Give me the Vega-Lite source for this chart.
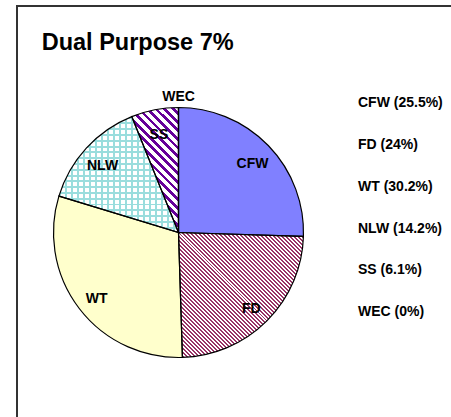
{
  "$schema": "https://vega.github.io/schema/vega-lite/v6.json",
  "width": 451,
  "height": 420,
  "autosize": {"type": "none"},
  "padding": {"left": 17, "top": 6, "right": 0, "bottom": 0},
  "background": "white",
  "view": {"stroke": "#333333", "strokeWidth": 2},
  "title": {
    "text": "Dual Purpose 7%",
    "anchor": "start",
    "frame": "group",
    "offset": -67,
    "dx": 24.7,
    "baseline": "alphabetic",
    "font": "Liberation Sans",
    "fontSize": 23.5,
    "fontWeight": "bold",
    "color": "#000000"
  },
  "data": {
    "values": [
      {"name": "CFW", "label": "CFW (25.5%)", "pct": 25.5, "ord": 1},
      {"name": "FD", "label": "FD (24%)", "pct": 24, "ord": 2},
      {"name": "WT", "label": "WT (30.2%)", "pct": 30.2, "ord": 3},
      {"name": "NLW", "label": "NLW (14.2%)", "pct": 14.2, "ord": 4},
      {"name": "SS", "label": "SS (6.1%)", "pct": 6.1, "ord": 5},
      {"name": "WEC", "label": "WEC (0%)", "pct": 0, "ord": 6}
    ]
  },
  "layer": [
    {
      "mark": {"type": "arc", "x": 161.5, "y": 226.5, "outerRadius": 125, "strokeWidth": 0},
      "encoding": {
        "theta": {"field": "pct", "type": "quantitative", "stack": true},
        "order": {"field": "ord", "type": "quantitative"},
        "fill": {
          "field": "label",
          "type": "nominal",
          "scale": {
            "domain": ["CFW (25.5%)", "FD (24%)", "WT (30.2%)", "NLW (14.2%)", "SS (6.1%)", "WEC (0%)"],
            "range": ["#8080ff", "#993366", "#ffffcc", "#99dddd", "#660099", "#ff8080"]
          },
          "legend": {
            "orient": "none",
            "legendX": 327,
            "legendY": 90.2,
            "title": null,
            "padding": 0,
            "symbolSize": 0,
            "symbolOpacity": 0,
            "symbolStrokeWidth": 0,
            "labelOffset": 0,
            "rowPadding": 27.8,
            "labelLimit": 200,
            "labelFont": "Liberation Sans",
            "labelFontSize": 14,
            "labelFontWeight": "bold",
            "labelColor": "#000000"
          },
          "condition": [
            {
              "test": "datum.name === 'FD'",
              "value": {
                "gradient": "linear", "x1": 0, "y1": 1, "x2": 1, "y2": 0,
                "stops": [
                  {"offset": 0, "color": "#993366"}, {"offset": 0.008, "color": "#993366"}, {"offset": 0.008, "color": "#ffffff"}, {"offset": 0.016, "color": "#ffffff"},
                  {"offset": 0.016, "color": "#993366"}, {"offset": 0.024, "color": "#993366"}, {"offset": 0.024, "color": "#ffffff"}, {"offset": 0.032, "color": "#ffffff"},
                  {"offset": 0.032, "color": "#993366"}, {"offset": 0.04, "color": "#993366"}, {"offset": 0.04, "color": "#ffffff"}, {"offset": 0.048, "color": "#ffffff"},
                  {"offset": 0.048, "color": "#993366"}, {"offset": 0.056, "color": "#993366"}, {"offset": 0.056, "color": "#ffffff"}, {"offset": 0.064, "color": "#ffffff"},
                  {"offset": 0.064, "color": "#993366"}, {"offset": 0.072, "color": "#993366"}, {"offset": 0.072, "color": "#ffffff"}, {"offset": 0.08, "color": "#ffffff"},
                  {"offset": 0.08, "color": "#993366"}, {"offset": 0.088, "color": "#993366"}, {"offset": 0.088, "color": "#ffffff"}, {"offset": 0.096, "color": "#ffffff"},
                  {"offset": 0.096, "color": "#993366"}, {"offset": 0.104, "color": "#993366"}, {"offset": 0.104, "color": "#ffffff"}, {"offset": 0.112, "color": "#ffffff"},
                  {"offset": 0.112, "color": "#993366"}, {"offset": 0.12, "color": "#993366"}, {"offset": 0.12, "color": "#ffffff"}, {"offset": 0.128, "color": "#ffffff"},
                  {"offset": 0.128, "color": "#993366"}, {"offset": 0.136, "color": "#993366"}, {"offset": 0.136, "color": "#ffffff"}, {"offset": 0.144, "color": "#ffffff"},
                  {"offset": 0.144, "color": "#993366"}, {"offset": 0.152, "color": "#993366"}, {"offset": 0.152, "color": "#ffffff"}, {"offset": 0.16, "color": "#ffffff"},
                  {"offset": 0.16, "color": "#993366"}, {"offset": 0.168, "color": "#993366"}, {"offset": 0.168, "color": "#ffffff"}, {"offset": 0.176, "color": "#ffffff"},
                  {"offset": 0.176, "color": "#993366"}, {"offset": 0.184, "color": "#993366"}, {"offset": 0.184, "color": "#ffffff"}, {"offset": 0.192, "color": "#ffffff"},
                  {"offset": 0.192, "color": "#993366"}, {"offset": 0.2, "color": "#993366"}, {"offset": 0.2, "color": "#ffffff"}, {"offset": 0.208, "color": "#ffffff"},
                  {"offset": 0.208, "color": "#993366"}, {"offset": 0.216, "color": "#993366"}, {"offset": 0.216, "color": "#ffffff"}, {"offset": 0.224, "color": "#ffffff"},
                  {"offset": 0.224, "color": "#993366"}, {"offset": 0.232, "color": "#993366"}, {"offset": 0.232, "color": "#ffffff"}, {"offset": 0.24, "color": "#ffffff"},
                  {"offset": 0.24, "color": "#993366"}, {"offset": 0.248, "color": "#993366"}, {"offset": 0.248, "color": "#ffffff"}, {"offset": 0.256, "color": "#ffffff"},
                  {"offset": 0.256, "color": "#993366"}, {"offset": 0.264, "color": "#993366"}, {"offset": 0.264, "color": "#ffffff"}, {"offset": 0.272, "color": "#ffffff"},
                  {"offset": 0.272, "color": "#993366"}, {"offset": 0.28, "color": "#993366"}, {"offset": 0.28, "color": "#ffffff"}, {"offset": 0.288, "color": "#ffffff"},
                  {"offset": 0.288, "color": "#993366"}, {"offset": 0.296, "color": "#993366"}, {"offset": 0.296, "color": "#ffffff"}, {"offset": 0.304, "color": "#ffffff"},
                  {"offset": 0.304, "color": "#993366"}, {"offset": 0.312, "color": "#993366"}, {"offset": 0.312, "color": "#ffffff"}, {"offset": 0.32, "color": "#ffffff"},
                  {"offset": 0.32, "color": "#993366"}, {"offset": 0.328, "color": "#993366"}, {"offset": 0.328, "color": "#ffffff"}, {"offset": 0.336, "color": "#ffffff"},
                  {"offset": 0.336, "color": "#993366"}, {"offset": 0.344, "color": "#993366"}, {"offset": 0.344, "color": "#ffffff"}, {"offset": 0.352, "color": "#ffffff"},
                  {"offset": 0.352, "color": "#993366"}, {"offset": 0.36, "color": "#993366"}, {"offset": 0.36, "color": "#ffffff"}, {"offset": 0.368, "color": "#ffffff"},
                  {"offset": 0.368, "color": "#993366"}, {"offset": 0.376, "color": "#993366"}, {"offset": 0.376, "color": "#ffffff"}, {"offset": 0.384, "color": "#ffffff"},
                  {"offset": 0.384, "color": "#993366"}, {"offset": 0.392, "color": "#993366"}, {"offset": 0.392, "color": "#ffffff"}, {"offset": 0.4, "color": "#ffffff"},
                  {"offset": 0.4, "color": "#993366"}, {"offset": 0.408, "color": "#993366"}, {"offset": 0.408, "color": "#ffffff"}, {"offset": 0.416, "color": "#ffffff"},
                  {"offset": 0.416, "color": "#993366"}, {"offset": 0.424, "color": "#993366"}, {"offset": 0.424, "color": "#ffffff"}, {"offset": 0.432, "color": "#ffffff"},
                  {"offset": 0.432, "color": "#993366"}, {"offset": 0.44, "color": "#993366"}, {"offset": 0.44, "color": "#ffffff"}, {"offset": 0.448, "color": "#ffffff"},
                  {"offset": 0.448, "color": "#993366"}, {"offset": 0.456, "color": "#993366"}, {"offset": 0.456, "color": "#ffffff"}, {"offset": 0.464, "color": "#ffffff"},
                  {"offset": 0.464, "color": "#993366"}, {"offset": 0.472, "color": "#993366"}, {"offset": 0.472, "color": "#ffffff"}, {"offset": 0.48, "color": "#ffffff"},
                  {"offset": 0.48, "color": "#993366"}, {"offset": 0.488, "color": "#993366"}, {"offset": 0.488, "color": "#ffffff"}, {"offset": 0.496, "color": "#ffffff"},
                  {"offset": 0.496, "color": "#993366"}, {"offset": 0.504, "color": "#993366"}, {"offset": 0.504, "color": "#ffffff"}, {"offset": 0.512, "color": "#ffffff"},
                  {"offset": 0.512, "color": "#993366"}, {"offset": 0.52, "color": "#993366"}, {"offset": 0.52, "color": "#ffffff"}, {"offset": 0.528, "color": "#ffffff"},
                  {"offset": 0.528, "color": "#993366"}, {"offset": 0.536, "color": "#993366"}, {"offset": 0.536, "color": "#ffffff"}, {"offset": 0.544, "color": "#ffffff"},
                  {"offset": 0.544, "color": "#993366"}, {"offset": 0.552, "color": "#993366"}, {"offset": 0.552, "color": "#ffffff"}, {"offset": 0.56, "color": "#ffffff"},
                  {"offset": 0.56, "color": "#993366"}, {"offset": 0.568, "color": "#993366"}, {"offset": 0.568, "color": "#ffffff"}, {"offset": 0.576, "color": "#ffffff"},
                  {"offset": 0.576, "color": "#993366"}, {"offset": 0.584, "color": "#993366"}, {"offset": 0.584, "color": "#ffffff"}, {"offset": 0.592, "color": "#ffffff"},
                  {"offset": 0.592, "color": "#993366"}, {"offset": 0.6, "color": "#993366"}, {"offset": 0.6, "color": "#ffffff"}, {"offset": 0.608, "color": "#ffffff"},
                  {"offset": 0.608, "color": "#993366"}, {"offset": 0.616, "color": "#993366"}, {"offset": 0.616, "color": "#ffffff"}, {"offset": 0.624, "color": "#ffffff"},
                  {"offset": 0.624, "color": "#993366"}, {"offset": 0.632, "color": "#993366"}, {"offset": 0.632, "color": "#ffffff"}, {"offset": 0.64, "color": "#ffffff"},
                  {"offset": 0.64, "color": "#993366"}, {"offset": 0.648, "color": "#993366"}, {"offset": 0.648, "color": "#ffffff"}, {"offset": 0.656, "color": "#ffffff"},
                  {"offset": 0.656, "color": "#993366"}, {"offset": 0.664, "color": "#993366"}, {"offset": 0.664, "color": "#ffffff"}, {"offset": 0.672, "color": "#ffffff"},
                  {"offset": 0.672, "color": "#993366"}, {"offset": 0.68, "color": "#993366"}, {"offset": 0.68, "color": "#ffffff"}, {"offset": 0.688, "color": "#ffffff"},
                  {"offset": 0.688, "color": "#993366"}, {"offset": 0.696, "color": "#993366"}, {"offset": 0.696, "color": "#ffffff"}, {"offset": 0.704, "color": "#ffffff"},
                  {"offset": 0.704, "color": "#993366"}, {"offset": 0.712, "color": "#993366"}, {"offset": 0.712, "color": "#ffffff"}, {"offset": 0.72, "color": "#ffffff"},
                  {"offset": 0.72, "color": "#993366"}, {"offset": 0.728, "color": "#993366"}, {"offset": 0.728, "color": "#ffffff"}, {"offset": 0.736, "color": "#ffffff"},
                  {"offset": 0.736, "color": "#993366"}, {"offset": 0.744, "color": "#993366"}, {"offset": 0.744, "color": "#ffffff"}, {"offset": 0.752, "color": "#ffffff"},
                  {"offset": 0.752, "color": "#993366"}, {"offset": 0.76, "color": "#993366"}, {"offset": 0.76, "color": "#ffffff"}, {"offset": 0.768, "color": "#ffffff"},
                  {"offset": 0.768, "color": "#993366"}, {"offset": 0.776, "color": "#993366"}, {"offset": 0.776, "color": "#ffffff"}, {"offset": 0.784, "color": "#ffffff"},
                  {"offset": 0.784, "color": "#993366"}, {"offset": 0.792, "color": "#993366"}, {"offset": 0.792, "color": "#ffffff"}, {"offset": 0.8, "color": "#ffffff"},
                  {"offset": 0.8, "color": "#993366"}, {"offset": 0.808, "color": "#993366"}, {"offset": 0.808, "color": "#ffffff"}, {"offset": 0.816, "color": "#ffffff"},
                  {"offset": 0.816, "color": "#993366"}, {"offset": 0.824, "color": "#993366"}, {"offset": 0.824, "color": "#ffffff"}, {"offset": 0.832, "color": "#ffffff"},
                  {"offset": 0.832, "color": "#993366"}, {"offset": 0.84, "color": "#993366"}, {"offset": 0.84, "color": "#ffffff"}, {"offset": 0.848, "color": "#ffffff"},
                  {"offset": 0.848, "color": "#993366"}, {"offset": 0.856, "color": "#993366"}, {"offset": 0.856, "color": "#ffffff"}, {"offset": 0.864, "color": "#ffffff"},
                  {"offset": 0.864, "color": "#993366"}, {"offset": 0.872, "color": "#993366"}, {"offset": 0.872, "color": "#ffffff"}, {"offset": 0.88, "color": "#ffffff"},
                  {"offset": 0.88, "color": "#993366"}, {"offset": 0.888, "color": "#993366"}, {"offset": 0.888, "color": "#ffffff"}, {"offset": 0.896, "color": "#ffffff"},
                  {"offset": 0.896, "color": "#993366"}, {"offset": 0.904, "color": "#993366"}, {"offset": 0.904, "color": "#ffffff"}, {"offset": 0.912, "color": "#ffffff"},
                  {"offset": 0.912, "color": "#993366"}, {"offset": 0.92, "color": "#993366"}, {"offset": 0.92, "color": "#ffffff"}, {"offset": 0.928, "color": "#ffffff"},
                  {"offset": 0.928, "color": "#993366"}, {"offset": 0.936, "color": "#993366"}, {"offset": 0.936, "color": "#ffffff"}, {"offset": 0.944, "color": "#ffffff"},
                  {"offset": 0.944, "color": "#993366"}, {"offset": 0.952, "color": "#993366"}, {"offset": 0.952, "color": "#ffffff"}, {"offset": 0.96, "color": "#ffffff"},
                  {"offset": 0.96, "color": "#993366"}, {"offset": 0.968, "color": "#993366"}, {"offset": 0.968, "color": "#ffffff"}, {"offset": 0.976, "color": "#ffffff"},
                  {"offset": 0.976, "color": "#993366"}, {"offset": 0.984, "color": "#993366"}, {"offset": 0.984, "color": "#ffffff"}, {"offset": 0.992, "color": "#ffffff"},
                  {"offset": 0.992, "color": "#993366"}, {"offset": 1, "color": "#993366"}
                ]
              }
            },
            {
              "test": "datum.name === 'NLW'",
              "value": {
                "gradient": "linear", "x1": 0, "y1": 0, "x2": 1, "y2": 0,
                "stops": [
                  {"offset": 0, "color": "#99dddd"}, {"offset": 0.017, "color": "#99dddd"}, {"offset": 0.017, "color": "#ffffff"}, {"offset": 0.05, "color": "#ffffff"},
                  {"offset": 0.05, "color": "#99dddd"}, {"offset": 0.067, "color": "#99dddd"}, {"offset": 0.067, "color": "#ffffff"}, {"offset": 0.1, "color": "#ffffff"},
                  {"offset": 0.1, "color": "#99dddd"}, {"offset": 0.117, "color": "#99dddd"}, {"offset": 0.117, "color": "#ffffff"}, {"offset": 0.15, "color": "#ffffff"},
                  {"offset": 0.15, "color": "#99dddd"}, {"offset": 0.167, "color": "#99dddd"}, {"offset": 0.167, "color": "#ffffff"}, {"offset": 0.2, "color": "#ffffff"},
                  {"offset": 0.2, "color": "#99dddd"}, {"offset": 0.217, "color": "#99dddd"}, {"offset": 0.217, "color": "#ffffff"}, {"offset": 0.25, "color": "#ffffff"},
                  {"offset": 0.25, "color": "#99dddd"}, {"offset": 0.267, "color": "#99dddd"}, {"offset": 0.267, "color": "#ffffff"}, {"offset": 0.3, "color": "#ffffff"},
                  {"offset": 0.3, "color": "#99dddd"}, {"offset": 0.317, "color": "#99dddd"}, {"offset": 0.317, "color": "#ffffff"}, {"offset": 0.35, "color": "#ffffff"},
                  {"offset": 0.35, "color": "#99dddd"}, {"offset": 0.367, "color": "#99dddd"}, {"offset": 0.367, "color": "#ffffff"}, {"offset": 0.4, "color": "#ffffff"},
                  {"offset": 0.4, "color": "#99dddd"}, {"offset": 0.417, "color": "#99dddd"}, {"offset": 0.417, "color": "#ffffff"}, {"offset": 0.45, "color": "#ffffff"},
                  {"offset": 0.45, "color": "#99dddd"}, {"offset": 0.467, "color": "#99dddd"}, {"offset": 0.467, "color": "#ffffff"}, {"offset": 0.5, "color": "#ffffff"},
                  {"offset": 0.5, "color": "#99dddd"}, {"offset": 0.517, "color": "#99dddd"}, {"offset": 0.517, "color": "#ffffff"}, {"offset": 0.55, "color": "#ffffff"},
                  {"offset": 0.55, "color": "#99dddd"}, {"offset": 0.567, "color": "#99dddd"}, {"offset": 0.567, "color": "#ffffff"}, {"offset": 0.6, "color": "#ffffff"},
                  {"offset": 0.6, "color": "#99dddd"}, {"offset": 0.617, "color": "#99dddd"}, {"offset": 0.617, "color": "#ffffff"}, {"offset": 0.65, "color": "#ffffff"},
                  {"offset": 0.65, "color": "#99dddd"}, {"offset": 0.667, "color": "#99dddd"}, {"offset": 0.667, "color": "#ffffff"}, {"offset": 0.7, "color": "#ffffff"},
                  {"offset": 0.7, "color": "#99dddd"}, {"offset": 0.717, "color": "#99dddd"}, {"offset": 0.717, "color": "#ffffff"}, {"offset": 0.75, "color": "#ffffff"},
                  {"offset": 0.75, "color": "#99dddd"}, {"offset": 0.767, "color": "#99dddd"}, {"offset": 0.767, "color": "#ffffff"}, {"offset": 0.8, "color": "#ffffff"},
                  {"offset": 0.8, "color": "#99dddd"}, {"offset": 0.817, "color": "#99dddd"}, {"offset": 0.817, "color": "#ffffff"}, {"offset": 0.85, "color": "#ffffff"},
                  {"offset": 0.85, "color": "#99dddd"}, {"offset": 0.867, "color": "#99dddd"}, {"offset": 0.867, "color": "#ffffff"}, {"offset": 0.9, "color": "#ffffff"},
                  {"offset": 0.9, "color": "#99dddd"}, {"offset": 0.917, "color": "#99dddd"}, {"offset": 0.917, "color": "#ffffff"}, {"offset": 0.95, "color": "#ffffff"},
                  {"offset": 0.95, "color": "#99dddd"}, {"offset": 0.967, "color": "#99dddd"}, {"offset": 0.967, "color": "#ffffff"}, {"offset": 1, "color": "#ffffff"}
                ]
              }
            },
            {
              "test": "datum.name === 'SS'",
              "value": {
                "gradient": "linear", "x1": 0, "y1": 1, "x2": 0.4503, "y2": -0.2053,
                "stops": [
                  {"offset": 0, "color": "#660099"}, {"offset": 0.022, "color": "#660099"}, {"offset": 0.022, "color": "#ffffff"}, {"offset": 0.05, "color": "#ffffff"},
                  {"offset": 0.05, "color": "#660099"}, {"offset": 0.072, "color": "#660099"}, {"offset": 0.072, "color": "#ffffff"}, {"offset": 0.1, "color": "#ffffff"},
                  {"offset": 0.1, "color": "#660099"}, {"offset": 0.122, "color": "#660099"}, {"offset": 0.122, "color": "#ffffff"}, {"offset": 0.15, "color": "#ffffff"},
                  {"offset": 0.15, "color": "#660099"}, {"offset": 0.172, "color": "#660099"}, {"offset": 0.172, "color": "#ffffff"}, {"offset": 0.2, "color": "#ffffff"},
                  {"offset": 0.2, "color": "#660099"}, {"offset": 0.222, "color": "#660099"}, {"offset": 0.222, "color": "#ffffff"}, {"offset": 0.25, "color": "#ffffff"},
                  {"offset": 0.25, "color": "#660099"}, {"offset": 0.272, "color": "#660099"}, {"offset": 0.272, "color": "#ffffff"}, {"offset": 0.3, "color": "#ffffff"},
                  {"offset": 0.3, "color": "#660099"}, {"offset": 0.322, "color": "#660099"}, {"offset": 0.322, "color": "#ffffff"}, {"offset": 0.35, "color": "#ffffff"},
                  {"offset": 0.35, "color": "#660099"}, {"offset": 0.372, "color": "#660099"}, {"offset": 0.372, "color": "#ffffff"}, {"offset": 0.4, "color": "#ffffff"},
                  {"offset": 0.4, "color": "#660099"}, {"offset": 0.422, "color": "#660099"}, {"offset": 0.422, "color": "#ffffff"}, {"offset": 0.45, "color": "#ffffff"},
                  {"offset": 0.45, "color": "#660099"}, {"offset": 0.472, "color": "#660099"}, {"offset": 0.472, "color": "#ffffff"}, {"offset": 0.5, "color": "#ffffff"},
                  {"offset": 0.5, "color": "#660099"}, {"offset": 0.522, "color": "#660099"}, {"offset": 0.522, "color": "#ffffff"}, {"offset": 0.55, "color": "#ffffff"},
                  {"offset": 0.55, "color": "#660099"}, {"offset": 0.572, "color": "#660099"}, {"offset": 0.572, "color": "#ffffff"}, {"offset": 0.6, "color": "#ffffff"},
                  {"offset": 0.6, "color": "#660099"}, {"offset": 0.622, "color": "#660099"}, {"offset": 0.622, "color": "#ffffff"}, {"offset": 0.65, "color": "#ffffff"},
                  {"offset": 0.65, "color": "#660099"}, {"offset": 0.672, "color": "#660099"}, {"offset": 0.672, "color": "#ffffff"}, {"offset": 0.7, "color": "#ffffff"},
                  {"offset": 0.7, "color": "#660099"}, {"offset": 0.722, "color": "#660099"}, {"offset": 0.722, "color": "#ffffff"}, {"offset": 0.75, "color": "#ffffff"},
                  {"offset": 0.75, "color": "#660099"}, {"offset": 0.772, "color": "#660099"}, {"offset": 0.772, "color": "#ffffff"}, {"offset": 0.8, "color": "#ffffff"},
                  {"offset": 0.8, "color": "#660099"}, {"offset": 0.822, "color": "#660099"}, {"offset": 0.822, "color": "#ffffff"}, {"offset": 0.85, "color": "#ffffff"},
                  {"offset": 0.85, "color": "#660099"}, {"offset": 0.872, "color": "#660099"}, {"offset": 0.872, "color": "#ffffff"}, {"offset": 0.9, "color": "#ffffff"},
                  {"offset": 0.9, "color": "#660099"}, {"offset": 0.922, "color": "#660099"}, {"offset": 0.922, "color": "#ffffff"}, {"offset": 0.95, "color": "#ffffff"},
                  {"offset": 0.95, "color": "#660099"}, {"offset": 0.972, "color": "#660099"}, {"offset": 0.972, "color": "#ffffff"}, {"offset": 1, "color": "#ffffff"}
                ]
              }
            }
          ]
        }
      }
    },
    {
      "mark": {"type": "arc", "x": 161.5, "y": 226.5, "outerRadius": 125, "strokeWidth": 0},
      "encoding": {
        "theta": {"field": "pct", "type": "quantitative", "stack": true},
        "order": {"field": "ord", "type": "quantitative"},
        "fill": {
          "condition": {
            "test": "datum.name === 'NLW'",
            "value": {
              "gradient": "linear", "x1": 0, "y1": 0, "x2": 0, "y2": 1,
              "stops": [
                {"offset": 0, "color": "#99dddd"}, {"offset": 0.017, "color": "#99dddd"}, {"offset": 0.017, "color": "rgba(255,255,255,0)"}, {"offset": 0.05, "color": "rgba(255,255,255,0)"},
                {"offset": 0.05, "color": "#99dddd"}, {"offset": 0.067, "color": "#99dddd"}, {"offset": 0.067, "color": "rgba(255,255,255,0)"}, {"offset": 0.1, "color": "rgba(255,255,255,0)"},
                {"offset": 0.1, "color": "#99dddd"}, {"offset": 0.117, "color": "#99dddd"}, {"offset": 0.117, "color": "rgba(255,255,255,0)"}, {"offset": 0.15, "color": "rgba(255,255,255,0)"},
                {"offset": 0.15, "color": "#99dddd"}, {"offset": 0.167, "color": "#99dddd"}, {"offset": 0.167, "color": "rgba(255,255,255,0)"}, {"offset": 0.2, "color": "rgba(255,255,255,0)"},
                {"offset": 0.2, "color": "#99dddd"}, {"offset": 0.217, "color": "#99dddd"}, {"offset": 0.217, "color": "rgba(255,255,255,0)"}, {"offset": 0.25, "color": "rgba(255,255,255,0)"},
                {"offset": 0.25, "color": "#99dddd"}, {"offset": 0.267, "color": "#99dddd"}, {"offset": 0.267, "color": "rgba(255,255,255,0)"}, {"offset": 0.3, "color": "rgba(255,255,255,0)"},
                {"offset": 0.3, "color": "#99dddd"}, {"offset": 0.317, "color": "#99dddd"}, {"offset": 0.317, "color": "rgba(255,255,255,0)"}, {"offset": 0.35, "color": "rgba(255,255,255,0)"},
                {"offset": 0.35, "color": "#99dddd"}, {"offset": 0.367, "color": "#99dddd"}, {"offset": 0.367, "color": "rgba(255,255,255,0)"}, {"offset": 0.4, "color": "rgba(255,255,255,0)"},
                {"offset": 0.4, "color": "#99dddd"}, {"offset": 0.417, "color": "#99dddd"}, {"offset": 0.417, "color": "rgba(255,255,255,0)"}, {"offset": 0.45, "color": "rgba(255,255,255,0)"},
                {"offset": 0.45, "color": "#99dddd"}, {"offset": 0.467, "color": "#99dddd"}, {"offset": 0.467, "color": "rgba(255,255,255,0)"}, {"offset": 0.5, "color": "rgba(255,255,255,0)"},
                {"offset": 0.5, "color": "#99dddd"}, {"offset": 0.517, "color": "#99dddd"}, {"offset": 0.517, "color": "rgba(255,255,255,0)"}, {"offset": 0.55, "color": "rgba(255,255,255,0)"},
                {"offset": 0.55, "color": "#99dddd"}, {"offset": 0.567, "color": "#99dddd"}, {"offset": 0.567, "color": "rgba(255,255,255,0)"}, {"offset": 0.6, "color": "rgba(255,255,255,0)"},
                {"offset": 0.6, "color": "#99dddd"}, {"offset": 0.617, "color": "#99dddd"}, {"offset": 0.617, "color": "rgba(255,255,255,0)"}, {"offset": 0.65, "color": "rgba(255,255,255,0)"},
                {"offset": 0.65, "color": "#99dddd"}, {"offset": 0.667, "color": "#99dddd"}, {"offset": 0.667, "color": "rgba(255,255,255,0)"}, {"offset": 0.7, "color": "rgba(255,255,255,0)"},
                {"offset": 0.7, "color": "#99dddd"}, {"offset": 0.717, "color": "#99dddd"}, {"offset": 0.717, "color": "rgba(255,255,255,0)"}, {"offset": 0.75, "color": "rgba(255,255,255,0)"},
                {"offset": 0.75, "color": "#99dddd"}, {"offset": 0.767, "color": "#99dddd"}, {"offset": 0.767, "color": "rgba(255,255,255,0)"}, {"offset": 0.8, "color": "rgba(255,255,255,0)"},
                {"offset": 0.8, "color": "#99dddd"}, {"offset": 0.817, "color": "#99dddd"}, {"offset": 0.817, "color": "rgba(255,255,255,0)"}, {"offset": 0.85, "color": "rgba(255,255,255,0)"},
                {"offset": 0.85, "color": "#99dddd"}, {"offset": 0.867, "color": "#99dddd"}, {"offset": 0.867, "color": "rgba(255,255,255,0)"}, {"offset": 0.9, "color": "rgba(255,255,255,0)"},
                {"offset": 0.9, "color": "#99dddd"}, {"offset": 0.917, "color": "#99dddd"}, {"offset": 0.917, "color": "rgba(255,255,255,0)"}, {"offset": 0.95, "color": "rgba(255,255,255,0)"},
                {"offset": 0.95, "color": "#99dddd"}, {"offset": 0.967, "color": "#99dddd"}, {"offset": 0.967, "color": "rgba(255,255,255,0)"}, {"offset": 1, "color": "rgba(255,255,255,0)"}
              ]
            }
          },
          "value": "transparent"
        }
      }
    },
    {
      "mark": {"type": "arc", "x": 161.5, "y": 226.5, "outerRadius": 125, "fill": "transparent", "stroke": "#000000", "strokeWidth": 1.2},
      "encoding": {
        "theta": {"field": "pct", "type": "quantitative", "stack": true},
        "order": {"field": "ord", "type": "quantitative"}
      }
    },
    {
      "transform": [{"filter": "datum.pct > 0"}],
      "mark": {"type": "text", "x": 161.5, "y": 226.5, "radius": 103, "dy": 3.5, "font": "Liberation Sans", "fontSize": 14, "fontWeight": "bold", "color": "#000000"},
      "encoding": {
        "theta": {"field": "pct", "type": "quantitative", "stack": true},
        "order": {"field": "ord", "type": "quantitative"},
        "text": {"field": "name", "type": "nominal"}
      }
    },
    {
      "transform": [{"filter": "datum.pct === 0"}],
      "mark": {"type": "text", "x": 161.5, "y": 226.5, "radius": 139, "dy": 3, "font": "Liberation Sans", "fontSize": 14, "fontWeight": "bold", "color": "#000000"},
      "encoding": {
        "theta": {"field": "pct", "type": "quantitative", "stack": true},
        "order": {"field": "ord", "type": "quantitative"},
        "text": {"field": "name", "type": "nominal"}
      }
    }
  ],
  "config": {
    "view": {"stroke": "#333333", "strokeWidth": 2},
    "style": {"cell": {"stroke": "#333333", "strokeWidth": 2}}
  }
}
